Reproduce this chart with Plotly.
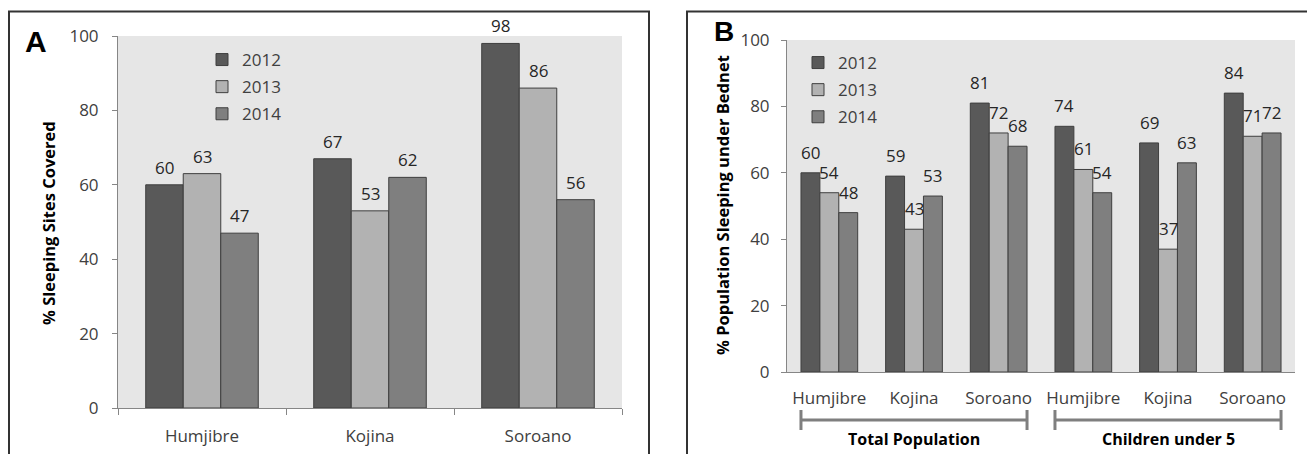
import plotly.graph_objects as go

# ---------------- data ----------------
years = ["2012", "2013", "2014"]

a_sites = ["Humjibre", "Kojina", "Soroano"]
a_2012 = [60, 67, 98]
a_2013 = [63, 53, 86]
a_2014 = [47, 62, 56]

b_groups = ["Total Population", "Children under 5"]
b_sites = ["Humjibre", "Kojina", "Soroano"]
b_2012 = [60, 59, 81, 74, 69, 84]
b_2013 = [54, 43, 72, 61, 37, 71]
b_2014 = [48, 53, 68, 54, 63, 72]

a_title = "% Sleeping Sites Covered"
b_title = "% Population Sleeping under Bednet"
y_ticks = [0, 20, 40, 60, 80, 100]

# ---------------- style ----------------
W, H = 1307, 454
colors = ["#595959", "#b2b2b2", "#7f7f7f"]
outline = "#3f3f3f"
FONT = "Open Sans"
tick_color = "#404040"
axis_color = "#868686"
bargap = 0.33
FS = 17

b_x = [f"{g}: {s}" for g in b_groups for s in b_sites]
b_ticktext = [s for g in b_groups for s in b_sites]

a_dom_x = [118 / W, 622 / W]
a_dom_y = [46 / H, 418 / H]
b_dom_x = [787 / W, 1295 / W]
b_dom_y = [82 / H, 414 / H]

fig = go.Figure()

a_vals = [a_2012, a_2013, a_2014]
b_vals = [b_2012, b_2013, b_2014]

for i, yr in enumerate(years):
    fig.add_trace(go.Bar(
        x=a_sites, y=a_vals[i], name=yr, xaxis="x", yaxis="y",
        marker=dict(color=colors[i], line=dict(color=outline, width=1)),
        legend="legend", legendgroup="a" + yr,
    ))
for i, yr in enumerate(years):
    fig.add_trace(go.Bar(
        x=b_x, y=b_vals[i], name=yr, xaxis="x2", yaxis="y2",
        marker=dict(color=colors[i], line=dict(color=outline, width=1)),
        legend="legend2", legendgroup="b" + yr,
    ))

annotations = []
# value labels
a_bw = (a_dom_x[1] - a_dom_x[0]) * W / len(a_sites) * (1 - bargap) / 3
b_bw = (b_dom_x[1] - b_dom_x[0]) * W / len(b_x) * (1 - bargap) / 3
for i in range(3):
    for cat, v in zip(a_sites, a_vals[i]):
        annotations.append(dict(
            x=cat, y=v, xref="x", yref="y", text=str(v), showarrow=False,
            xshift=(i - 1) * a_bw, yshift=4, yanchor="bottom",
            font=dict(family=FONT, size=FS, color="#262626")))
    for cat, v in zip(b_x, b_vals[i]):
        annotations.append(dict(
            x=cat, y=v, xref="x2", yref="y2", text=str(v), showarrow=False,
            xshift=(i - 1) * b_bw, yshift=7, yanchor="bottom",
            font=dict(family=FONT, size=FS, color="#262626")))

# axis titles
annotations.append(dict(x=48 / W, y=(H - 223) / H, xref="paper", yref="paper",
                        text="<b>" + a_title + "</b>", textangle=-90, showarrow=False,
                        xanchor="center", yanchor="middle",
                        font=dict(family=FONT, size=16.5, color="#000000")))
annotations.append(dict(x=723 / W, y=(H - 205) / H, xref="paper", yref="paper",
                        text="<b>" + b_title + "</b>", textangle=-90, showarrow=False,
                        xanchor="center", yanchor="middle",
                        font=dict(family=FONT, size=16.5, color="#000000")))
# panel letters
annotations.append(dict(x=36 / W, y=(H - 41) / H, xref="paper", yref="paper",
                        text="<b>A</b>", showarrow=False, xanchor="center", yanchor="middle",
                        font=dict(family="Liberation Sans", size=30, color="#000000")))
annotations.append(dict(x=724 / W, y=(H - 32) / H, xref="paper", yref="paper",
                        text="<b>B</b>", showarrow=False, xanchor="center", yanchor="middle",
                        font=dict(family="Liberation Sans", size=28, color="#000000")))

# group brackets for panel B
half = (1 - bargap) / 2
shapes = []
for gi, g in enumerate(b_groups):
    start = gi * len(b_sites) - half
    end = (gi + 1) * len(b_sites) - 1 + half
    mid = gi * len(b_sites) + (len(b_sites) - 1) / 2
    shapes.append(dict(type="line", xref="x2", yref="paper", x0=start, x1=end,
                       y0=(H - 420) / H, y1=(H - 420) / H,
                       line=dict(color="#7f7f7f", width=3)))
    for xe in (start, end):
        shapes.append(dict(type="line", xref="x2", yref="paper", x0=xe, x1=xe,
                           y0=(H - 410) / H, y1=(H - 430) / H,
                           line=dict(color="#7f7f7f", width=3)))
    annotations.append(dict(x=mid, y=(H - 439) / H, xref="x2", yref="paper",
                            text="<b>" + g + "</b>", showarrow=False,
                            xanchor="center", yanchor="middle",
                            font=dict(family=FONT, size=16, color="#000000")))

# panel frames
shapes.append(dict(type="rect", xref="paper", yref="paper", x0=9 / W, x1=649 / W,
                   y0=-0.1, y1=(H - 11.5) / H, line=dict(color="#333333", width=2)))
shapes.append(dict(type="rect", xref="paper", yref="paper", x0=687 / W, x1=1.05,
                   y0=-0.1, y1=(H - 11.5) / H, line=dict(color="#333333", width=2)))

tickfont = dict(family=FONT, size=FS, color=tick_color)
yax = dict(range=[0, 100], tickvals=y_ticks, showgrid=False, zeroline=False,
           showline=True, linecolor=axis_color, linewidth=1, ticks="outside",
           ticklen=5, tickcolor=axis_color, tickfont=tickfont, fixedrange=True,
           automargin=False)

legend_common = dict(font=dict(family=FONT, size=FS, color=tick_color),
                     bgcolor="rgba(0,0,0,0)", traceorder="grouped",
                     tracegroupgap=2, xanchor="left", yanchor="top",
                     itemclick=False)

fig.update_layout(
    width=W, height=H, margin=dict(l=0, r=0, t=0, b=0, pad=0, autoexpand=False),
    autosize=False,
    paper_bgcolor="white", plot_bgcolor="#e6e6e6",
    barmode="group", bargap=bargap, bargroupgap=0,
    font=dict(family=FONT),
    xaxis=dict(domain=a_dom_x, anchor="y", showline=True, linecolor=axis_color,
               ticks="outside", tickson="boundaries", ticklen=6, tickcolor=axis_color,
               tickfont=tickfont, ticklabelstandoff=13, fixedrange=True,
               automargin=False),
    yaxis=dict(domain=a_dom_y, anchor="x", ticklabelstandoff=10, **yax),
    xaxis2=dict(domain=b_dom_x, anchor="y2", showline=True, linecolor=axis_color,
                ticks="", tickvals=b_x, ticktext=b_ticktext, tickfont=tickfont,
                ticklabelstandoff=11, fixedrange=True, automargin=False),
    yaxis2=dict(domain=b_dom_y, anchor="x2", ticklabelstandoff=8, **yax),
    legend=dict(x=202 / W, y=(H - 42) / H, **legend_common),
    legend2=dict(x=798 / W, y=(H - 45) / H, **legend_common),
    annotations=annotations,
    shapes=shapes,
    showlegend=True,
)

fig.write_html("out.html", config={"displayModeBar": False},
               post_script="document.body.style.margin='0px';document.body.style.overflow='hidden';")
